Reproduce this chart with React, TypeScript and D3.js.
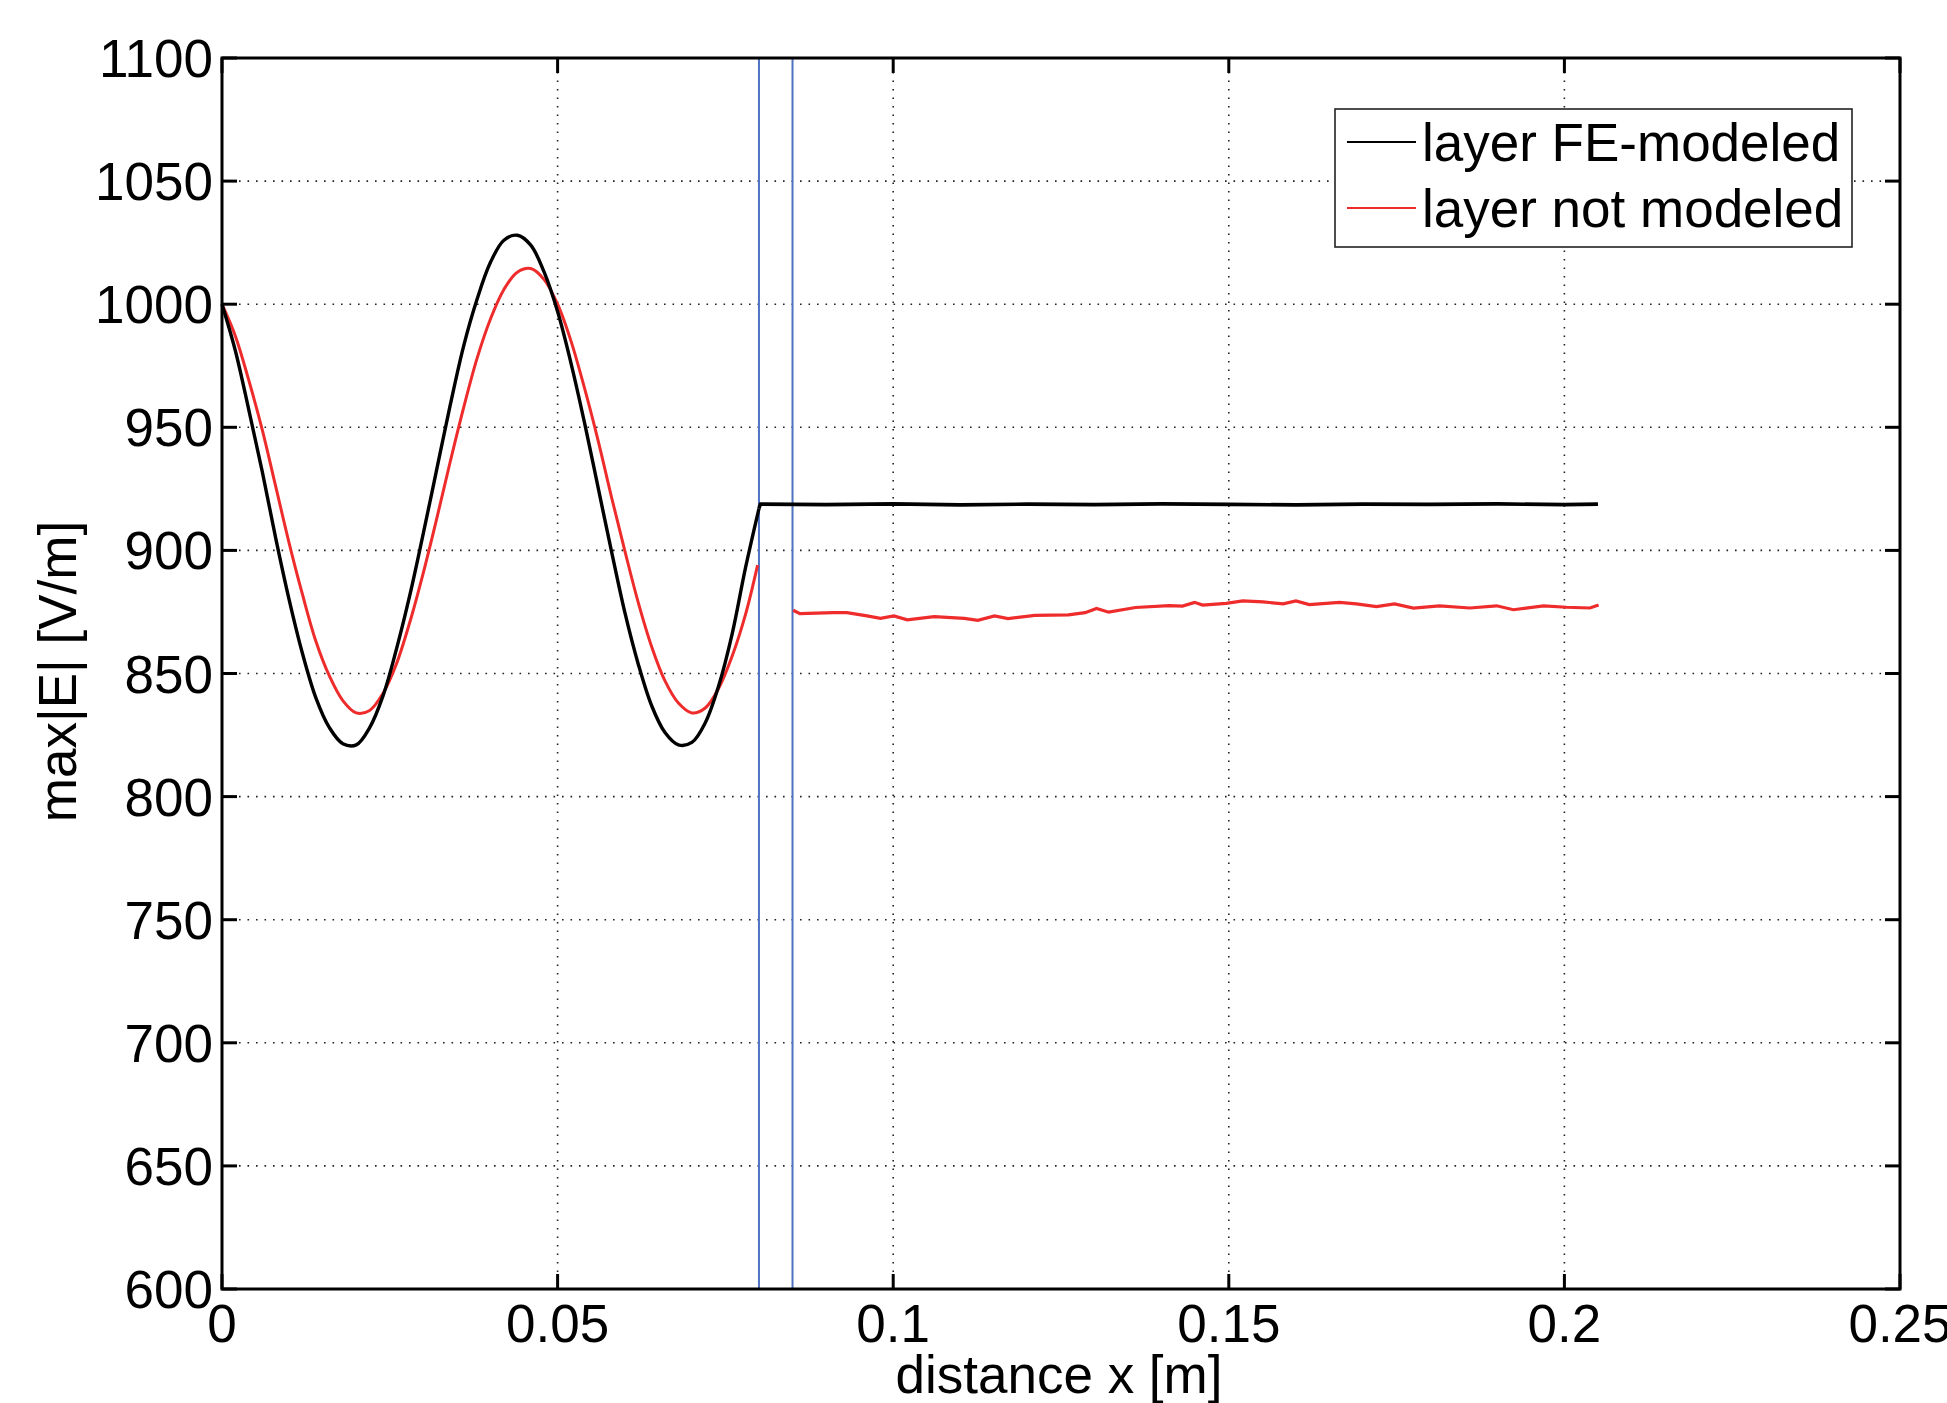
import React, { useRef, useEffect } from 'react'
import * as d3 from 'd3'

// max|E| along x: FE-modeled layer vs. layer not modeled (MATLAB-style figure)

const xTicks = [0, 0.05, 0.1, 0.15, 0.2, 0.25]
const yTicks = [600, 650, 700, 750, 800, 850, 900, 950, 1000, 1050, 1100]
const layerEdges = [0.08, 0.085]

// layer FE-modeled (black), in front of the layer
const feModeledA: [number, number][] = [
  [0, 1000], [0.002, 981], [0.004, 957], [0.006, 932], [0.008, 905], [0.01, 880],
  [0.012, 858], [0.014, 840], [0.016, 828], [0.018, 821.5], [0.02, 821], [0.022, 828],
  [0.024, 841], [0.026, 860], [0.028, 882], [0.03, 907], [0.032, 933], [0.034, 959],
  [0.036, 983], [0.038, 1002], [0.04, 1017], [0.042, 1026], [0.044, 1028], [0.046, 1024],
  [0.048, 1013], [0.05, 997], [0.052, 976], [0.054, 952], [0.056, 926], [0.058, 900],
  [0.06, 875], [0.062, 854], [0.064, 837], [0.066, 826], [0.068, 821], [0.07, 822],
  [0.072, 830], [0.074, 845], [0.076, 866], [0.078, 893], [0.08, 917],
]

// layer FE-modeled (black), inside and behind the layer
const feModeledB: [number, number][] = [
  [0.0802, 918.8], [0.09, 918.6], [0.1, 918.9], [0.11, 918.5], [0.12, 918.8], [0.13, 918.6],
  [0.14, 918.9], [0.15, 918.7], [0.16, 918.5], [0.17, 918.8], [0.18, 918.7], [0.19, 918.9],
  [0.2, 918.6], [0.205, 918.8],
]

// layer not modeled (red), in front of the layer
const notModeledA: [number, number][] = [
  [0, 1000], [0.002, 987], [0.004, 969], [0.006, 949], [0.008, 926], [0.01, 903],
  [0.012, 882], [0.014, 863], [0.016, 849], [0.018, 839], [0.02, 834], [0.022, 835],
  [0.024, 842], [0.026, 854], [0.028, 871], [0.03, 891], [0.032, 913], [0.034, 936],
  [0.036, 958], [0.038, 978], [0.04, 994], [0.042, 1006], [0.044, 1013], [0.046, 1014.5],
  [0.048, 1010], [0.05, 1000], [0.052, 985], [0.054, 966], [0.056, 945], [0.058, 922],
  [0.06, 900], [0.062, 879], [0.064, 861], [0.066, 847], [0.068, 838], [0.07, 834],
  [0.072, 836], [0.074, 844], [0.076, 857], [0.078, 874], [0.0798, 894],
]

// layer not modeled (red), behind the layer
const notModeledB: [number, number][] = [
  [0.0851, 875.7], [0.0861, 874.3], [0.0911, 874.7], [0.0931, 874.7], [0.0961, 873.4],
  [0.0981, 872.4], [0.1001, 873.4], [0.1021, 871.8], [0.1061, 873.1], [0.1106, 872.4],
  [0.1126, 871.6], [0.1151, 873.4], [0.1171, 872.3], [0.1211, 873.6], [0.1261, 873.8],
  [0.1286, 874.7], [0.1303, 876.4], [0.1321, 874.9], [0.1361, 876.8], [0.1411, 877.6],
  [0.1431, 877.4], [0.1449, 878.9], [0.1461, 877.8], [0.1496, 878.5], [0.1521, 879.5],
  [0.1551, 879.1], [0.1581, 878.3], [0.16, 879.5], [0.162, 878.0], [0.1665, 878.9],
  [0.169, 878.3], [0.172, 877.2], [0.1747, 878.3], [0.1775, 876.6], [0.1814, 877.5],
  [0.1859, 876.6], [0.1899, 877.5], [0.1924, 875.9], [0.1969, 877.5], [0.2003, 876.9],
  [0.2038, 876.6], [0.2051, 877.8],
]

const legendItems = [
  { label: 'layer FE-modeled', color: '#000000' },
  { label: 'layer not modeled', color: '#ee2c2c' },
]

const W = 1947
const H = 1403
const FONT = '"Liberation Sans", Arial, Helvetica, sans-serif'

export default function App() {
  const svgRef = useRef<SVGSVGElement | null>(null)

  useEffect(() => {
    const svg = d3.select(svgRef.current)
    svg.selectAll('*').remove()

    const left = 222
    const right = 1900
    const top = 58
    const bottom = 1289
    const tickLen = 15
    const fs = 53

    const x = d3.scaleLinear().domain([0, 0.25]).range([left, right])
    const y = d3.scaleLinear().domain([600, 1100]).range([bottom, top])

    svg.append('rect').attr('width', W).attr('height', H).attr('fill', '#fff')

    // dotted grid
    const grid = svg.append('g').attr('stroke', '#222').attr('stroke-width', 1.6).attr('stroke-dasharray', '1.6 6.9')
    xTicks.slice(1, -1).forEach((t) => {
      grid.append('line').attr('x1', x(t)).attr('x2', x(t)).attr('y1', bottom).attr('y2', top)
    })
    yTicks.slice(1, -1).forEach((t) => {
      grid.append('line').attr('x1', left).attr('x2', right).attr('y1', y(t)).attr('y2', y(t))
    })

    // layer boundaries
    layerEdges.forEach((e) => {
      svg.append('line')
        .attr('x1', x(e)).attr('x2', x(e)).attr('y1', top).attr('y2', bottom)
        .attr('stroke', '#4f72c2').attr('stroke-width', 2)
    })

    const smooth = d3.line<[number, number]>()
      .x((d) => x(d[0]))
      .y((d) => y(d[1]))
      .curve(d3.curveCatmullRom.alpha(0.5))
    const plain = d3.line<[number, number]>()
      .x((d) => x(d[0]))
      .y((d) => y(d[1]))

    const red = legendItems[1].color
    const black = legendItems[0].color
    svg.append('path').datum(notModeledA)
      .attr('fill', 'none').attr('stroke', red).attr('stroke-width', 3).attr('d', smooth)
    svg.append('path').datum(notModeledB)
      .attr('fill', 'none').attr('stroke', red).attr('stroke-width', 3.2).attr('d', plain)
    svg.append('path').datum(feModeledA)
      .attr('fill', 'none').attr('stroke', black).attr('stroke-width', 3.4).attr('d', smooth)
    svg.append('path').datum([feModeledA[feModeledA.length - 1], ...feModeledB])
      .attr('fill', 'none').attr('stroke', black).attr('stroke-width', 3.6)
      .attr('stroke-linejoin', 'round').attr('d', plain)

    // axes box + inward ticks
    const ax = svg.append('g').attr('stroke', '#000').attr('stroke-width', 3)
    ax.append('rect')
      .attr('x', left).attr('y', top).attr('width', right - left).attr('height', bottom - top)
      .attr('fill', 'none')
    xTicks.forEach((t) => {
      ax.append('line').attr('x1', x(t)).attr('x2', x(t)).attr('y1', bottom).attr('y2', bottom - tickLen)
      ax.append('line').attr('x1', x(t)).attr('x2', x(t)).attr('y1', top).attr('y2', top + tickLen)
    })
    yTicks.forEach((t) => {
      ax.append('line').attr('x1', left).attr('x2', left + tickLen).attr('y1', y(t)).attr('y2', y(t))
      ax.append('line').attr('x1', right).attr('x2', right - tickLen).attr('y1', y(t)).attr('y2', y(t))
    })

    // tick labels
    const txt = svg.append('g').attr('font-family', FONT).attr('font-size', fs).attr('fill', '#000')
    yTicks.forEach((t) => {
      txt.append('text')
        .attr('x', left - 9).attr('y', y(t) + 19)
        .attr('text-anchor', 'end')
        .text(d3.format('d')(t))
    })
    xTicks.forEach((t) => {
      txt.append('text')
        .attr('x', x(t)).attr('y', bottom + 53)
        .attr('text-anchor', 'middle')
        .text(String(t))
    })

    txt.append('text')
      .attr('x', (left + right) / 2 - 2).attr('y', 1393)
      .attr('text-anchor', 'middle')
      .text('distance x [m]')
    txt.append('text')
      .attr('transform', `translate(76, ${(top + bottom) / 2 - 2}) rotate(-90)`)
      .attr('text-anchor', 'middle')
      .text('max|E| [V/m]')

    // legend
    const lg = svg.append('g').attr('transform', 'translate(1335, 109)')
    lg.append('rect').attr('width', 517).attr('height', 138)
      .attr('fill', '#fff').attr('stroke', '#222').attr('stroke-width', 1.6)
    legendItems.forEach((it, i) => {
      const cy = 33 + i * 66
      lg.append('line').attr('x1', 12).attr('x2', 81).attr('y1', cy).attr('y2', cy)
        .attr('stroke', it.color).attr('stroke-width', 2.2)
      lg.append('text')
        .attr('x', 87).attr('y', cy + 19)
        .attr('font-family', FONT).attr('font-size', fs)
        .text(it.label)
    })
  }, [])

  return (
    <svg
      ref={svgRef}
      width={W}
      height={H}
      viewBox={`0 0 ${W} ${H}`}
      style={{ position: 'absolute', left: 0, top: 0, display: 'block' }}
    />
  )
}
